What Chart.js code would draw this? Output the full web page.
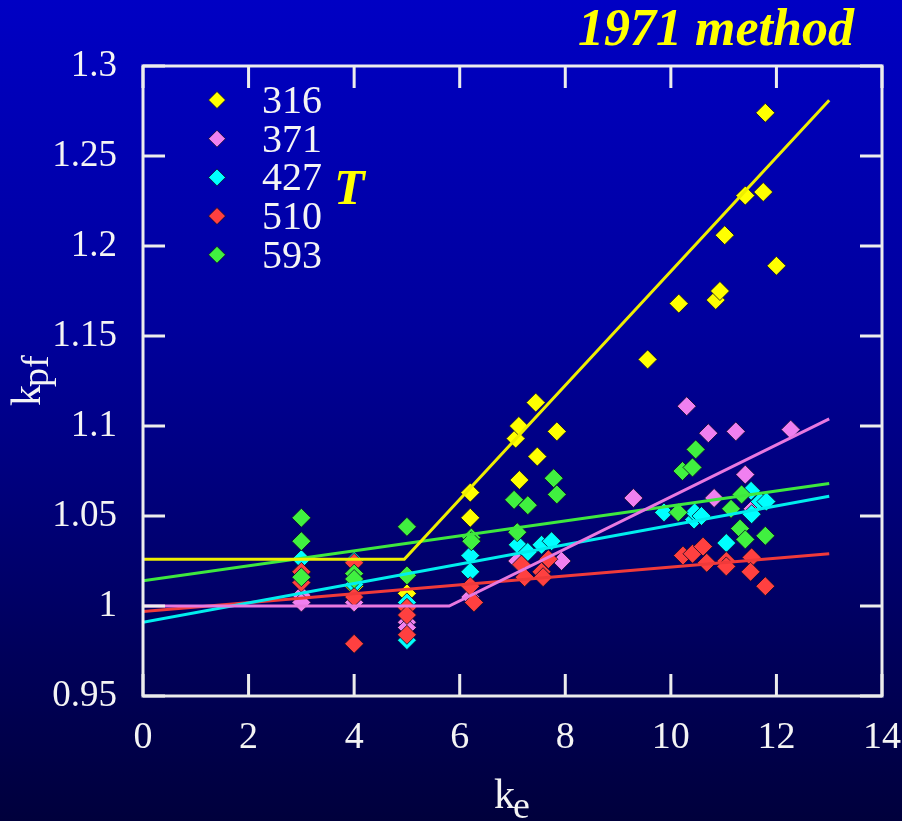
<!DOCTYPE html>
<html>
<head>
<meta charset="utf-8">
<script src="https://cdn.jsdelivr.net/npm/chart.js@4"></script>
<style>
  html, body { margin: 0; padding: 0; }
  body { width: 902px; height: 821px; background: linear-gradient(to bottom, #0000c4 0%, #00009c 40%, #00005a 80%, #00003c 100%); overflow: hidden; }
  canvas { display: block; }
</style>
</head>
<body>
<canvas id="kpfChart" width="902" height="821"></canvas>
<script>
// temperatures (legend labels) and colours
const seriesNames = ['316', '371', '427', '510', '593'];
const seriesColors = ['#ffff00', '#f080f0', '#00ffff', '#ff4040', '#40f040'];
const lineColors = ['#eeee00', '#e878e0', '#00eeee', '#f03a3a', '#3ee83e'];

// tick labels
const xTicks = [0, 2, 4, 6, 8, 10, 12, 14];
const yTicks = [0.95, 1, 1.05, 1.1, 1.15, 1.2, 1.25, 1.3];

// measured points (ke, kpf)
const ke316 = [3, 4, 5, 6.2, 6.2, 7.06, 7.12, 7.44, 7.13, 7.47, 7.84, 9.56, 10.15, 10.85, 10.93, 11.02, 11.41, 11.75, 11.79, 12.0];
const kpf316 = [1.019, 1.011, 1.007, 1.063, 1.049, 1.093, 1.100, 1.113, 1.070, 1.083, 1.097, 1.137, 1.168, 1.170, 1.175, 1.206, 1.228, 1.230, 1.274, 1.189];

const ke371 = [3, 3, 4, 5, 5, 6.2, 7.09, 7.93, 9.29, 10.3, 10.71, 10.82, 11.23, 11.41, 11.55, 12.27];
const kpf371 = [1.006, 1.002, 1.002, 0.991, 0.988, 1.005, 1.025, 1.025, 1.060, 1.111, 1.096, 1.060, 1.097, 1.073, 1.054, 1.098];

const ke427 = [3, 4, 4, 5, 5, 6.2, 6.2, 7.1, 7.29, 7.55, 7.74, 9.87, 10.44, 10.45, 10.58, 11.05, 11.52, 11.53, 11.69, 11.81];
const kpf427 = [1.026, 1.025, 1.012, 1.002, 0.981, 1.028, 1.019, 1.034, 1.030, 1.034, 1.036, 1.052, 1.048, 1.052, 1.050, 1.035, 1.064, 1.051, 1.058, 1.058];

const ke510 = [3, 3, 4, 4, 4, 5, 5, 5, 6.2, 6.27, 7.17, 7.23, 7.55, 7.68, 7.58, 10.23, 10.41, 10.61, 10.68, 11.05, 11.05, 11.53, 11.51, 11.79];
const kpf510 = [1.019, 1.013, 0.979, 1.024, 1.005, 0.999, 0.995, 0.984, 1.011, 1.002, 1.023, 1.016, 1.019, 1.026, 1.016, 1.028, 1.029, 1.033, 1.024, 1.025, 1.022, 1.027, 1.019, 1.011];

const ke593 = [3, 3, 3, 4, 4, 5, 5, 6.22, 6.22, 7.03, 7.29, 7.78, 7.84, 7.09, 10.14, 10.22, 10.41, 10.47, 11.14, 11.34, 11.31, 11.41, 11.79];
const kpf593 = [1.049, 1.036, 1.016, 1.018, 1.015, 1.044, 1.017, 1.038, 1.036, 1.059, 1.056, 1.071, 1.062, 1.041, 1.052, 1.075, 1.077, 1.087, 1.054, 1.062, 1.043, 1.037, 1.039];

// 1971 method curves
const lineKe316 = [0, 4.95, 13];
const lineKpf316 = [1.026, 1.026, 1.281];
const lineKe371 = [0, 5.8, 13];
const lineKpf371 = [1.0, 1.0, 1.104];
const lineKe427 = [0, 13];
const lineKpf427 = [0.991, 1.061];
const lineKe510 = [0, 13];
const lineKpf510 = [0.997, 1.029];
const lineKe593 = [0, 13];
const lineKpf593 = [1.014, 1.068];

const pointKe = [ke316, ke371, ke427, ke510, ke593];
const pointKpf = [kpf316, kpf371, kpf427, kpf510, kpf593];
const lineKe = [lineKe316, lineKe371, lineKe427, lineKe510, lineKe593];
const lineKpf = [lineKpf316, lineKpf371, lineKpf427, lineKpf510, lineKpf593];

function pairs(xs, ys) {
    return xs.map((x, i) => ({ x: x, y: ys[i] }));
}

const SERIF = '"Liberation Serif", "Times New Roman", serif';
const datasets = [];

seriesNames.forEach((name, i) => {
    datasets.push({
        label: name,
        data: pairs(pointKe[i], pointKpf[i]),
        pointStyle: 'rectRot',
        pointRadius: 9.5,
        pointHoverRadius: 9.5,
        backgroundColor: seriesColors[i],
        borderColor: 'rgba(10,10,40,0.8)',
        borderWidth: 1,
        showLine: false,
        order: 5 - i,
        clip: false
    });
});

seriesNames.forEach((name, i) => {
    datasets.push({
        label: name + ' line',
        data: pairs(lineKe[i], lineKpf[i]),
        showLine: true,
        pointRadius: 0,
        borderColor: lineColors[i],
        borderWidth: 3,
        fill: false,
        order: 0
    });
});

// FRAME, INWARD TICKS, LEGEND AND TEXT
const decorations = {
    id: 'decorations',
    afterDraw(chart) {
        const ctx = chart.ctx;
        const area = chart.chartArea;
        const xs = chart.scales.x;
        const ys = chart.scales.y;
        const tick = 22;

        ctx.save();
        ctx.strokeStyle = '#ececec';
        ctx.lineWidth = 3;
        ctx.strokeRect(area.left, area.top, area.right - area.left, area.bottom - area.top);
        ctx.beginPath();
        xTicks.forEach(v => {
            const px = xs.getPixelForValue(v);
            ctx.moveTo(px, area.bottom);
            ctx.lineTo(px, area.bottom - tick);
            ctx.moveTo(px, area.top);
            ctx.lineTo(px, area.top + tick);
        });
        yTicks.forEach(v => {
            const py = ys.getPixelForValue(v);
            ctx.moveTo(area.left, py);
            ctx.lineTo(area.left + tick, py);
            ctx.moveTo(area.right, py);
            ctx.lineTo(area.right - tick, py);
        });
        ctx.stroke();

        // legend
        const legendX = 217;
        const legendY = 100;
        const rowH = 38.7;
        seriesNames.forEach((name, i) => {
            const cy = legendY + i * rowH;
            ctx.beginPath();
            ctx.moveTo(legendX, cy - 8.5);
            ctx.lineTo(legendX + 8.5, cy);
            ctx.lineTo(legendX, cy + 8.5);
            ctx.lineTo(legendX - 8.5, cy);
            ctx.closePath();
            ctx.fillStyle = seriesColors[i];
            ctx.fill();
            ctx.lineWidth = 1;
            ctx.strokeStyle = 'rgba(10,10,40,0.8)';
            ctx.stroke();
            ctx.fillStyle = '#f4f4f4';
            ctx.font = '40px ' + SERIF;
            ctx.textAlign = 'left';
            ctx.textBaseline = 'alphabetic';
            ctx.fillText(name, 262, cy + 13);
        });

        // title and T
        ctx.fillStyle = '#ffff00';
        ctx.font = 'italic bold 52px ' + SERIF;
        ctx.textAlign = 'center';
        ctx.fillText('1971 method', 716, 45);
        ctx.font = 'italic bold 50px ' + SERIF;
        ctx.textAlign = 'left';
        ctx.fillText('T', 334, 204);

        // axis titles
        ctx.fillStyle = '#f4f4f4';
        ctx.font = '42px ' + SERIF;
        ctx.textAlign = 'left';
        const kw = ctx.measureText('k').width;
        ctx.fillText('k', 494, 808);
        ctx.font = '38px ' + SERIF;
        ctx.fillText('e', 494 + kw - 2, 818);

        ctx.translate(40, 406);
        ctx.rotate(-Math.PI / 2);
        ctx.font = '42px ' + SERIF;
        ctx.fillText('k', 0, 0);
        ctx.font = '38px ' + SERIF;
        ctx.fillText('pf', kw - 2, 8);
        ctx.restore();
    }
};

const ctx = document.getElementById('kpfChart');
new Chart(ctx, {
    type: 'scatter',
    data: { datasets: datasets },
    options: {
        responsive: false,
        animation: false,
        events: [],
        layout: { padding: { top: 66, right: 20, left: 0, bottom: 0 } },
        plugins: {
            legend: { display: false },
            tooltip: { enabled: false }
        },
        scales: {
            x: {
                type: 'linear',
                min: 0,
                max: 14,
                afterBuildTicks: (scale) => { scale.ticks = xTicks.map(v => ({ value: v })); },
                afterFit: (scale) => {
                    scale.height = 125;
                    scale.paddingLeft = 0;
                    scale.paddingRight = 0;
                },
                grid: { display: false },
                border: { display: false },
                ticks: {
                    color: '#f4f4f4',
                    font: { family: SERIF, size: 38 },
                    padding: 11,
                    maxRotation: 0,
                    callback: (v) => String(v)
                }
            },
            y: {
                type: 'linear',
                min: 0.95,
                max: 1.3,
                afterBuildTicks: (scale) => { scale.ticks = yTicks.map(v => ({ value: v })); },
                afterFit: (scale) => {
                    scale.width = 143;
                    scale.paddingTop = 0;
                    scale.paddingBottom = 0;
                },
                grid: { display: false },
                border: { display: false },
                ticks: {
                    color: '#f4f4f4',
                    font: { family: SERIF, size: 37 },
                    padding: 18,
                    callback: (v) => String(+v.toFixed(2))
                }
            }
        }
    },
    plugins: [decorations]
});
</script>
</body>
</html>
